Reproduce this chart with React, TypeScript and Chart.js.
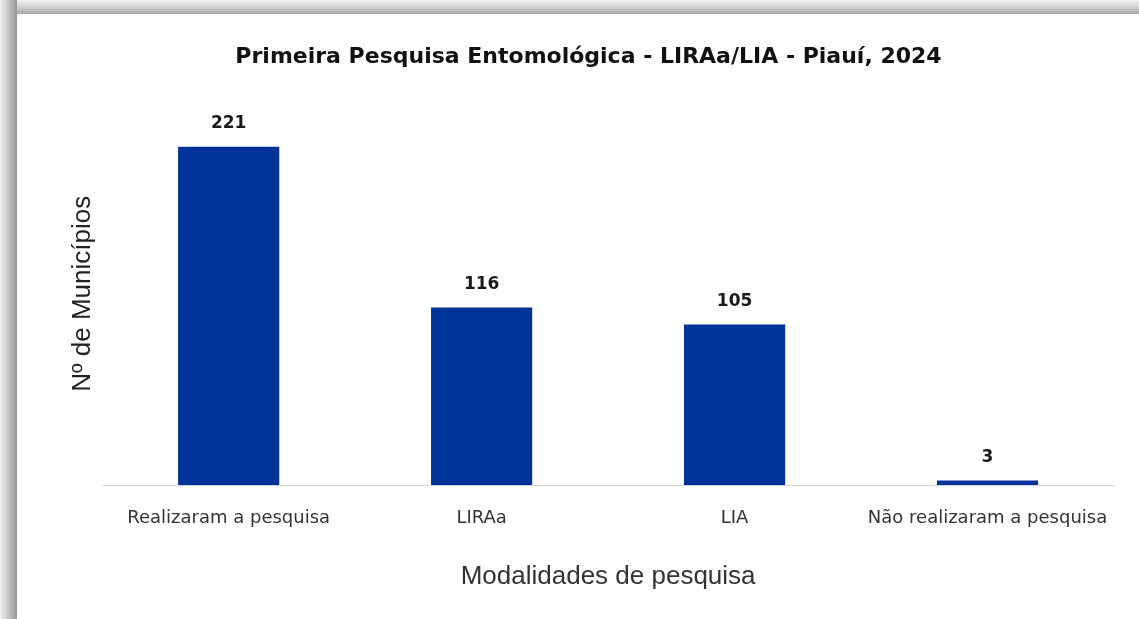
import React, { useEffect, useRef } from "react";
import { Chart, registerables } from "chart.js";

Chart.register(...registerables);

const categories = ["Realizaram a pesquisa", "LIRAa", "LIA", "Não realizaram a pesquisa"];
const values = [221, 116, 105, 3];
const chartTitle = "Primeira Pesquisa Entomológica - LIRAa/LIA - Piauí, 2024";
const xTitle = "Modalidades de pesquisa";
const yTitle = "Nº de Municípios";

const valueLabels = {
  id: "valueLabels",
  afterDatasetsDraw(chart: any) {
    const ctx = chart.ctx;
    const meta = chart.getDatasetMeta(0);
    const data = chart.data.datasets[0].data;
    ctx.save();
    ctx.font = "bold 17px 'DejaVu Sans'";
    ctx.fillStyle = "#1a1a1a";
    ctx.textAlign = "center";
    ctx.textBaseline = "middle";
    meta.data.forEach((bar: any, i: number) => {
      ctx.fillText(String(data[i]), bar.x, bar.y - 23);
    });
    ctx.restore();
  },
};

export default function App() {
  const ref = useRef<HTMLCanvasElement | null>(null);
  useEffect(() => {
    if (!ref.current) return;
    const chart = new Chart(ref.current, {
      type: "bar",
      data: {
        labels: categories,
        datasets: [
          {
            data: values,
            backgroundColor: "#003399",
            borderWidth: 0,
            categoryPercentage: 1,
            barPercentage: 0.4,
          },
        ],
      },
      options: {
        responsive: false,
        animation: false,
        layout: { padding: { left: 46, right: 25, top: 20, bottom: 23 } },
        plugins: {
          legend: { display: false },
          tooltip: { enabled: false },
          title: {
            display: true,
            text: chartTitle,
            color: "#111111",
            font: { family: "'DejaVu Sans'", size: 22, weight: "bold" },
            padding: { top: 10, bottom: 32 },
          },
        },
        scales: {
          x: {
            grid: { display: false },
            border: { display: true, color: "#d9d9d9", width: 1 },
            ticks: {
              color: "#333333",
              font: { family: "'DejaVu Sans'", size: 18 },
              padding: 14,
              maxRotation: 0,
            },
            title: {
              display: true,
              text: xTitle,
              color: "#333333",
              font: { family: "'Liberation Sans'", size: 26 },
              padding: { top: 18, bottom: 4 },
            },
          },
          y: {
            min: 0,
            max: 250,
            grid: { display: false, drawTicks: false },
            border: { display: false },
            ticks: { display: false },
            title: {
              display: true,
              text: yTitle,
              color: "#222222",
              font: { family: "'Liberation Sans'", size: 26 },
              padding: { top: 4, bottom: 4 },
            },
          },
        },
      },
      plugins: [valueLabels],
    });
    return () => chart.destroy();
  }, []);

  return (
    <div
      style={{
        position: "fixed",
        left: 0,
        top: 0,
        width: 1139,
        height: 619,
        background: "#ffffff",
      }}
    >
      <div
        style={{
          position: "absolute",
          left: 0,
          top: 0,
          width: 1139,
          height: 14,
          background: "linear-gradient(to bottom, #f2f2f2, #c8c8c8 60%, #a8a8a8)",
        }}
      />
      <div
        style={{
          position: "absolute",
          left: 0,
          top: 0,
          width: 17,
          height: 619,
          background: "linear-gradient(to right, #f0f0f0, #c0c0c0 55%, #9a9a9a)",
        }}
      />
      <canvas
        ref={ref}
        width={1122}
        height={605}
        style={{ position: "absolute", left: 17, top: 14, width: 1122, height: 605 }}
      />
    </div>
  );
}
